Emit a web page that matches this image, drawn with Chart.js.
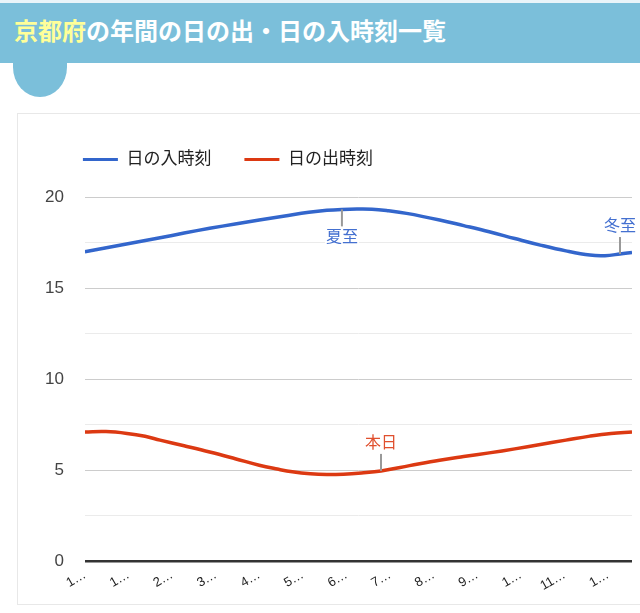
<!DOCTYPE html>
<html lang="ja">
<head>
<meta charset="utf-8">
<script src="https://cdn.jsdelivr.net/npm/chart.js@4/dist/chart.umd.min.js"></script>
<style>
  html, body { margin: 0; padding: 0; background: #fff; width: 640px; height: 613px; overflow: hidden; position: relative; }
  #topline { position: absolute; left: 0; top: 0; width: 640px; height: 3px; background: #e9f4f9; }
  #header { position: absolute; left: 0; top: 3px; width: 640px; height: 60px; background: #7bbfda; }
  #bump { position: absolute; left: 13px; top: 62px; width: 54px; height: 35px; background: #7bbfda; border-radius: 0 0 27px 27px / 0 0 30px 30px; }
  #title { position: absolute; left: 14px; top: 13px; margin: 0; font: bold 24px "Noto Sans CJK JP", sans-serif; color: #fff; line-height: 34px; letter-spacing: 0px; white-space: nowrap; }
  #title .pref { color: #ffff99; }
  #card { position: absolute; left: 17px; top: 113px; width: 700px; height: 490px; border: 1px solid #e8e8e8; background: #fff; }
  #wrap { position: absolute; left: 18px; top: 114px; width: 622px; height: 490px; }
</style>
</head>
<body>
<div id="topline"></div>
<div id="header"></div>
<div id="bump"></div>
<h1 id="title"><span class="pref">京都府</span>の年間の日の出・日の入時刻一覧</h1>
<div id="card"></div>
<div id="wrap"><canvas id="c"></canvas></div>
<script>
// ---- data (day-of-year from Jan 1, hours) ----
const seriesNames = ['日の入時刻', '日の出時刻'];
const sunsetDays  = [0, 25, 50, 66, 83, 100, 116, 133, 149, 161, 171, 181, 191, 202, 214, 236, 252, 269, 286, 303, 320, 336, 346, 356, 364];
const sunsetHours = [16.99, 17.38, 17.76, 18.02, 18.28, 18.52, 18.74, 18.96, 19.16, 19.27, 19.32, 19.34, 19.33, 19.24, 19.10, 18.74, 18.43, 18.09, 17.72, 17.36, 17.04, 16.81, 16.78, 16.87, 16.96];
const sunriseDays  = [0, 14, 28, 40, 50, 66, 83, 100, 116, 128, 138, 150, 161, 172, 184, 197, 216, 236, 252, 269, 286, 303, 320, 336, 350, 364];
const sunriseHours = [7.10, 7.12, 7.02, 6.86, 6.65, 6.34, 6.00, 5.63, 5.27, 5.06, 4.91, 4.80, 4.76, 4.78, 4.85, 4.96, 5.25, 5.55, 5.75, 5.95, 6.17, 6.41, 6.65, 6.87, 7.02, 7.10];
const xTickLabels = ['1…', '1…', '2…', '3…', '4…', '5…', '6…', '7…', '8…', '9…', '1…', '11…', '1…'];
const annotationSeries = [0, 0, 1];
const annotationIndex  = [10, 23, 15];
const annotationText   = ['夏至', '冬至', '本日'];
const annotationBelow  = [true, false, false];

const blue = '#3366cc', red = '#dc3912';
const FONT = "'Liberation Sans', 'Noto Sans CJK JP', sans-serif";

const toPoints = (xs, ys) => xs.map((x, i) => ({ x: x, y: ys[i] }));

const legendTweak = {
  id: 'legendTweak',
  beforeInit(chart) {
    const fit = chart.legend.fit;
    chart.legend.fit = function () { fit.call(this); this.height += 19; };
  },
  afterLayout(chart) {
    const lg = chart.legend;
    const pad = lg.options.labels.padding;
    lg.left = chart.chartArea.left - 2 - pad;
  }
};

const annotationPlugin = {
  id: 'annotations',
  afterDatasetsDraw(chart) {
    const ctx = chart.ctx;
    annotationText.forEach((txt, k) => {
      const ds = annotationSeries[k];
      const pt = chart.getDatasetMeta(ds).data[annotationIndex[k]];
      const below = annotationBelow[k];
      const dir = below ? 1 : -1;
      const x = pt.x, y = pt.y;
      ctx.save();
      ctx.font = '16px ' + FONT;
      const w = ctx.measureText(txt).width;
      const ty = y + dir * 19;
      ctx.fillStyle = '#fff';
      if (below) ctx.fillRect(x - w / 2 - 1, ty, w + 2, 18);
      else ctx.fillRect(x - w / 2 - 1, ty - 18, w + 2, 18);
      ctx.strokeStyle = '#999';
      ctx.lineWidth = 2;
      ctx.beginPath();
      ctx.moveTo(x, y);
      ctx.lineTo(x, y + dir * 17);
      ctx.stroke();
      ctx.fillStyle = ds === 0 ? '#4470d0' : '#e0502e';
      ctx.textAlign = 'center';
      ctx.textBaseline = below ? 'top' : 'bottom';
      ctx.fillText(txt, x, ty + (below ? 1 : 0));
      ctx.restore();
    });
  }
};

new Chart(document.getElementById('c'), {
  type: 'line',
  data: {
    datasets: [
      { label: seriesNames[0], data: toPoints(sunsetDays, sunsetHours), borderColor: blue, backgroundColor: blue, borderWidth: 3.5, pointRadius: 0, tension: 0.4 },
      { label: seriesNames[1], data: toPoints(sunriseDays, sunriseHours), borderColor: red, backgroundColor: red, borderWidth: 3.5, pointRadius: 0, tension: 0.4 }
    ]
  },
  options: {
    responsive: true,
    maintainAspectRatio: false,
    animation: false,
    layout: { padding: { top: 4, left: 6, right: 8, bottom: 4 } },
    plugins: {
      tooltip: { enabled: false },
      legend: {
        position: 'top',
        align: 'start',
        labels: {
          boxWidth: 35,
          boxHeight: 3,
          padding: 33,
          color: '#222',
          font: { size: 17, family: FONT },
          generateLabels(chart) {
            const items = Chart.defaults.plugins.legend.labels.generateLabels(chart);
            items.forEach(it => { it.lineWidth = 0; it.fillStyle = it.strokeStyle; });
            return items;
          }
        }
      }
    },
    scales: {
      x: {
        type: 'linear',
        min: 0,
        max: 364,
        grid: { display: false, drawTicks: false },
        border: { display: false },
        ticks: {
          stepSize: 29,
          includeBounds: false,
          autoSkip: false,
          maxRotation: 30,
          minRotation: 30,
          padding: 6,
          color: '#222',
          font: { size: 13, family: FONT },
          callback: (v, i) => xTickLabels[i]
        }
      },
      y: {
        min: 0,
        max: 20,
        grid: {
          drawTicks: false,
          color: c => c.tick.value === 0 ? '#333' : (c.tick.value % 5 === 0 ? '#cccccc' : '#ebebeb'),
          lineWidth: c => c.tick.value === 0 ? 2.5 : 1
        },
        border: { display: false },
        ticks: {
          stepSize: 2.5,
          padding: 21,
          color: '#444',
          font: { size: 17, family: FONT },
          callback: v => (v % 5 === 0 ? String(v) : '')
        }
      }
    }
  },
  plugins: [legendTweak, annotationPlugin]
});
</script>
</body>
</html>
